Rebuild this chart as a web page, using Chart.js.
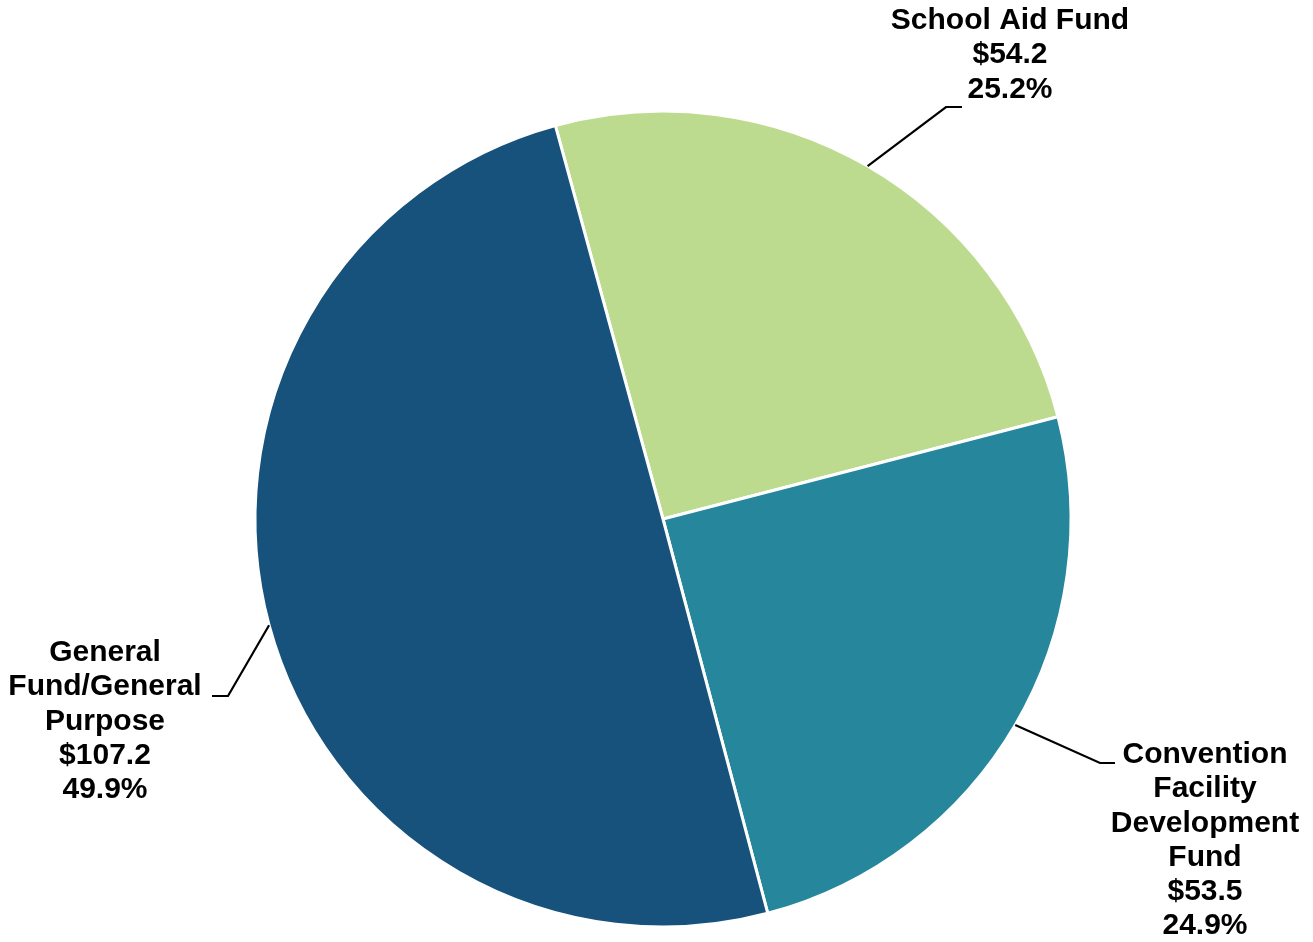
<!DOCTYPE html>
<html>
<head>
<meta charset="utf-8">
<script src="https://cdn.jsdelivr.net/npm/chart.js@4.4.1/dist/chart.umd.min.js"></script>
<style>
  html, body { margin: 0; padding: 0; background: #ffffff; }
  #wrap { position: relative; width: 1313px; height: 942px; }
</style>
</head>
<body>
<div id="wrap"><canvas id="c"></canvas></div>
<script>
// ---- data ----
const categories = ['School Aid Fund', 'Convention Facility Development Fund', 'General Fund/General Purpose'];
const values = [54.2, 53.5, 107.2];
const labelLines = [
  ['School Aid Fund'],
  ['Convention', 'Facility', 'Development', 'Fund'],
  ['General', 'Fund/General', 'Purpose']
];
const colors = ['#BCDB8F', '#26869B', '#17527D'];

// ---- label layout (positions only) ----
const labelLayout = [
  { elbow: [946, 107], end: [962, 107], cx: 1010, firstY: 21 },
  { elbow: [1100, 763], end: [1115, 763], cx: 1205, firstY: 755 },
  { elbow: [228, 696], end: [212, 696], cx: 105, firstY: 653 }
];
const LINE_H = 34.2;
const FONT = 'bold 30px "Liberation Sans", Arial, sans-serif';

const total = values.reduce((a, b) => a + b, 0);

const labelPlugin = {
  id: 'leaderLabels',
  afterDraw(chart) {
    const ctx = chart.ctx;
    const meta = chart.getDatasetMeta(0);
    ctx.save();
    meta.data.forEach((arc, i) => {
      const p = arc.getProps(['x', 'y', 'startAngle', 'endAngle', 'outerRadius'], true);
      const mid = (p.startAngle + p.endAngle) / 2;
      const sx = p.x + Math.cos(mid) * p.outerRadius;
      const sy = p.y + Math.sin(mid) * p.outerRadius;
      const L = labelLayout[i];
      ctx.strokeStyle = '#000000';
      ctx.lineWidth = 2.2;
      ctx.beginPath();
      ctx.moveTo(sx, sy);
      ctx.lineTo(L.elbow[0], L.elbow[1]);
      ctx.lineTo(L.end[0], L.end[1]);
      ctx.stroke();

      const pct = (values[i] / total * 100).toFixed(1) + '%';
      const lines = labelLines[i].concat(['$' + values[i].toFixed(1), pct]);
      ctx.fillStyle = '#000000';
      ctx.font = FONT;
      ctx.textAlign = 'center';
      ctx.textBaseline = 'middle';
      lines.forEach((t, k) => {
        ctx.fillText(t, L.cx, L.firstY + k * LINE_H);
      });
    });
    ctx.restore();
  }
};

new Chart(document.getElementById('c'), {
  type: 'pie',
  data: {
    labels: categories,
    datasets: [{
      data: values,
      backgroundColor: colors,
      borderColor: '#ffffff',
      borderWidth: 3
    }]
  },
  options: {
    responsive: true,
    maintainAspectRatio: false,
    animation: false,
    rotation: -15.3,
    radius: 408,
    layout: { padding: { top: 96, bottom: 0, left: 13, right: 0 } },
    plugins: {
      legend: { display: false },
      tooltip: { enabled: false }
    }
  },
  plugins: [labelPlugin]
});
</script>
</body>
</html>
